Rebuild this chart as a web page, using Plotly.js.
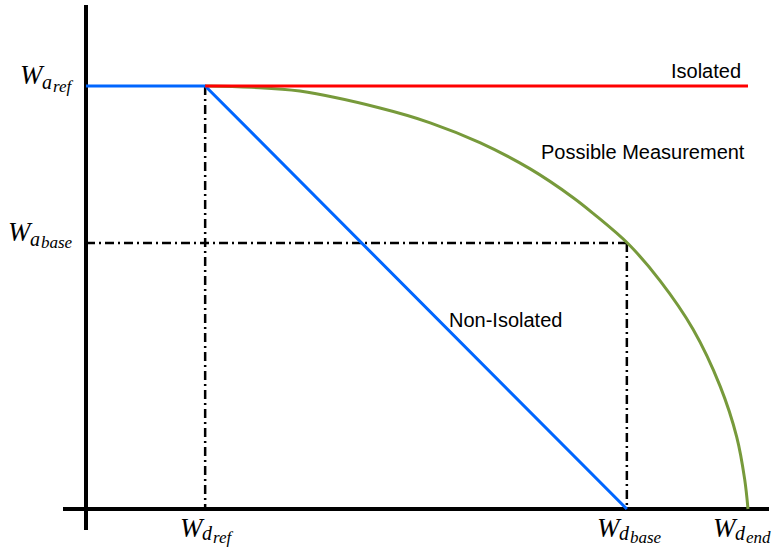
<!DOCTYPE html>
<html>
<head>
<meta charset="utf-8">
<script src="https://cdn.plot.ly/plotly-3.0.1.min.js"></script>
<style>html,body{margin:0;padding:0;background:#fff;}#chart{width:779px;height:555px;}</style>
</head>
<body>
<div id="chart"></div>
<script>
// Relative units: Wd_end = 1 on x, Wa_ref = 1 on y
var xTickVals = [0.18, 0.817, 1.0];
var xTickMain = ["W", "W", "W"];
var xTickSub = ["d", "d", "d"];
var xTickSubSub = ["ref", "base", "end"];
var yTickVals = [1.0, 0.629];
var yTickMain = ["W", "W"];
var yTickSub = ["a", "a"];
var yTickSubSub = ["ref", "base"];

var Wd_ref = 0.18, Wd_base = 0.817, Wd_end = 1.0;
var Wa_ref = 1.0, Wa_base = 0.629;

var nonIsolatedX = [0, Wd_ref, Wd_base];
var nonIsolatedY = [Wa_ref, Wa_ref, 0];
var isolatedX = [Wd_ref, Wd_end];
var isolatedY = [Wa_ref, Wa_ref];
var possibleX = [0.180, 0.250, 0.323, 0.444, 0.520, 0.595, 0.671, 0.736, 0.766, 0.819, 0.867, 0.917, 0.958, 0.983, 0.995, 1.0];
var possibleY = [1.000, 0.997, 0.988, 0.948, 0.913, 0.866, 0.804, 0.736, 0.699, 0.627, 0.540, 0.425, 0.290, 0.170, 0.070, 0.0];
var guideX = [Wd_ref, Wd_ref, null, 0, Wd_base, null, Wd_base, Wd_base];
var guideY = [Wa_ref, 0, null, Wa_base, Wa_base, null, Wa_base, 0];

var traces = [
  {x: guideX, y: guideY, mode: 'lines', line: {color: '#000', width: 2.5, dash: '9px,4px,2px,4px'}, hoverinfo: 'skip'},
  {x: possibleX, y: possibleY, mode: 'lines', line: {color: '#779a3b', width: 3, shape: 'spline', smoothing: 1}, hoverinfo: 'skip'},
  {x: nonIsolatedX, y: nonIsolatedY, mode: 'lines', line: {color: '#0066ff', width: 3}, hoverinfo: 'skip'},
  {x: isolatedX, y: isolatedY, mode: 'lines', line: {color: '#ff0000', width: 3}, hoverinfo: 'skip'}
];

var fam = 'Liberation Serif';
var annotations = [];
// builds a math-style label W_{s_{ss}} from three pieces, left edge at (x,y) + (dx, dy) pixels
function addMath(x, y, dx, dyMain, dySub, dySubSub, m, s, ss) {
  var common = {x: x, y: y, xref: 'x', yref: 'y', showarrow: false, xanchor: 'left', yanchor: 'middle'};
  annotations.push(Object.assign({}, common, {text: '<i>' + m + '</i>', xshift: dx, yshift: dyMain, font: {family: fam, size: 27, color: '#000'}}));
  annotations.push(Object.assign({}, common, {text: '<i>' + s + '</i>', xshift: dx + 22, yshift: dySub, font: {family: fam, size: 20, color: '#000'}}));
  annotations.push(Object.assign({}, common, {text: '<i>' + ss + '</i>', xshift: dx + 33, yshift: dySubSub, font: {family: fam, size: 17, color: '#000'}}));
}
var xLabelShift = [-27, -32, -37];
for (var i = 0; i < xTickVals.length; i++) {
  addMath(xTickVals[i], 0, xLabelShift[i], -19, -24, -28, xTickMain[i], xTickSub[i], xTickSubSub[i]);
}
var yLabelShift = [-68, -80];
for (var j = 0; j < yTickVals.length; j++) {
  addMath(0, yTickVals[j], yLabelShift[j], 11, 4, 0, yTickMain[j], yTickSub[j], yTickSubSub[j]);
}
var txtFont = {family: 'Liberation Sans', size: 20, color: '#000'};
annotations.push({x: 0.937, y: 1.035, xref: 'x', yref: 'y', text: 'Isolated', showarrow: false, font: txtFont});
annotations.push({x: 0.841, y: 0.844, xref: 'x', yref: 'y', text: 'Possible Measurement', showarrow: false, font: txtFont});
annotations.push({x: 0.634, y: 0.447, xref: 'x', yref: 'y', text: 'Non-Isolated', showarrow: false, font: txtFont});

var layout = {
  width: 779, height: 555,
  margin: {l: 63, r: 10, t: 5, b: 25},
  paper_bgcolor: '#fff', plot_bgcolor: '#fff',
  showlegend: false,
  xaxis: {range: [-0.03474, 1.03172], showgrid: false, showticklabels: false, ticks: '', zeroline: true, zerolinecolor: '#000', zerolinewidth: 4.5, showline: false, fixedrange: true},
  yaxis: {range: [-0.04965, 1.19149], showgrid: false, showticklabels: false, ticks: '', zeroline: true, zerolinecolor: '#000', zerolinewidth: 4.5, showline: false, fixedrange: true},
  annotations: annotations
};
Plotly.newPlot('chart', traces, layout, {displayModeBar: false, staticPlot: true});
</script>
</body>
</html>
